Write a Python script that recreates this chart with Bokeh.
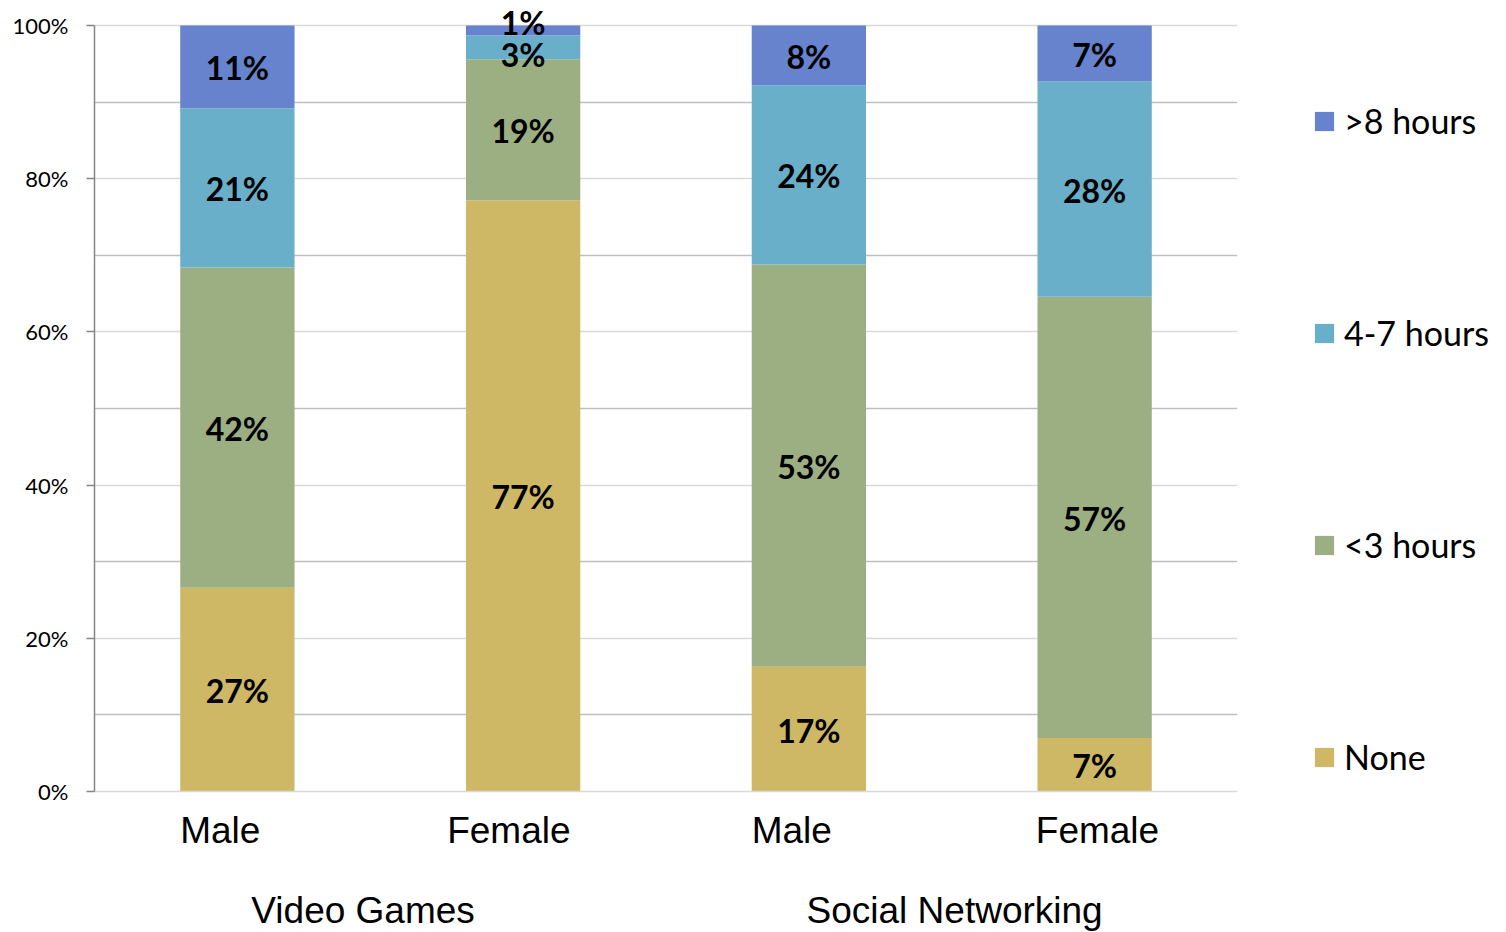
from bokeh.plotting import figure
from bokeh.models import (ColumnDataSource, Range1d, FixedTicker, LinearAxis, Legend,
                          LegendItem, CustomJSTickFormatter, PrintfTickFormatter)
from bokeh.embed import file_html
from bokeh.resources import INLINE
from bokeh.core.properties import value

# ---------------- data ----------------
groups = ["Video Games", "Social Networking"]
genders = ["Male", "Female", "Male", "Female"]
series = ["None", "<3 hours", "4-7 hours", ">8 hours"]

none_vals = [26.6, 77.2, 16.3, 7.0]
lt3_vals = [41.8, 18.4, 52.5, 57.6]
h47_vals = [20.8, 3.1, 23.4, 28.1]
gt8_vals = [10.8, 1.3, 7.8, 7.3]

none_labels = ["27%", "77%", "17%", "7%"]
lt3_labels = ["42%", "19%", "53%", "57%"]
h47_labels = ["21%", "3%", "24%", "28%"]
gt8_labels = ["11%", "1%", "8%", "7%"]

y_ticks = [0, 20, 40, 60, 80, 100]

# ---------------- styles ----------------
colors = ["#CEB866", "#9CAF82", "#6AAFC9", "#6783CD"]
# pixel nudges for crowded labels (series index, bar index) -> dy (screen px, + = down)
label_nudge = {(3, 1): -9, (2, 1): 6}

xs = list(range(len(genders)))
src = ColumnDataSource(dict(x=xs, **{s: v for s, v in zip(series, [none_vals, lt3_vals, h47_vals, gt8_vals])}))

Y_TOP = 103  # head-room above 100% so the top label is not clipped
p = figure(frame_width=1143, frame_height=789,
           x_range=Range1d(-0.5, 3.5), y_range=Range1d(0, Y_TOP),
           output_backend="svg", toolbar_location=None,
           min_border_left=94, min_border_top=2, min_border_right=255, min_border_bottom=120)
p.outline_line_color = None

renderers = p.vbar_stack(series, x="x", width=0.4, source=src, color=colors, line_color=None)

# value labels
lx, ly, lt, ldy = [], [], [], []
all_vals = [none_vals, lt3_vals, h47_vals, gt8_vals]
all_labels = [none_labels, lt3_labels, h47_labels, gt8_labels]
for i in xs:
    base = 0.0
    for s in range(len(series)):
        v = all_vals[s][i]
        lx.append(i)
        ly.append(base + v / 2.0)
        lt.append(all_labels[s][i])
        ldy.append(label_nudge.get((s, i), 0) + 1)
        base += v
lsrc = ColumnDataSource(dict(x=lx, y=ly, text=lt, dy=ldy))
p.text(x="x", y="y", text="text", y_offset="dy", source=lsrc,
       text_align="center", text_baseline="middle",
       text_font=value("Lato"), text_font_style="bold", text_font_size="32px",
       text_color="black")

# y axis
p.yaxis.ticker = FixedTicker(ticks=y_ticks, minor_ticks=[10, 30, 50, 70, 90])
p.yaxis.bounds = (0, 100)
p.yaxis.formatter = PrintfTickFormatter(format="%d%%")
p.yaxis.major_label_text_font = "Lato"
p.yaxis.major_label_text_font_size = "22px"
p.yaxis.major_label_text_color = "black"
p.yaxis.major_label_standoff = 18
p.yaxis.axis_line_color = "#868686"
p.yaxis.axis_line_width = 1.5
p.yaxis.major_tick_line_color = "#868686"
p.yaxis.major_tick_line_width = 1.5
p.yaxis.major_tick_in = 0
p.yaxis.major_tick_out = 8
p.yaxis.minor_tick_line_color = None

p.ygrid.grid_line_color = "#d9d9d9"
p.ygrid.grid_line_width = 1.5
p.ygrid.minor_grid_line_color = "#bfbfbf"
p.ygrid.minor_grid_line_width = 1.5
p.xgrid.visible = False

# x axis: genders
xa = p.xaxis[0]
xa.ticker = FixedTicker(ticks=[-0.06, 0.95, 1.94, 3.01])
xa.formatter = CustomJSTickFormatter(args=dict(labels=genders), code="return labels[index];")
xa.major_label_text_font = "Liberation Sans"
xa.major_label_text_font_size = "37px"
xa.major_label_text_color = "black"
xa.major_label_standoff = 12
xa.axis_line_color = "#d9d9d9"
xa.axis_line_width = 1.5
xa.major_tick_line_color = None
xa.minor_tick_line_color = None

# x axis: groups
ga = LinearAxis(ticker=FixedTicker(ticks=[0.44, 2.51]),
                formatter=CustomJSTickFormatter(args=dict(labels=groups), code="return labels[index];"))
ga.major_label_text_font = "Liberation Sans"
ga.major_label_text_font_size = "37px"
ga.major_label_text_color = "black"
ga.major_label_standoff = 30
ga.axis_line_color = None
ga.major_tick_line_color = None
ga.minor_tick_line_color = None
p.add_layout(ga, "below")

# legend
items = [LegendItem(label=s, renderers=[r]) for s, r in reversed(list(zip(series, renderers)))]
legend = Legend(items=items, location=(75, 14), orientation="vertical",
                glyph_width=24, glyph_height=24, label_height=41, spacing=171,
                padding=0, margin=0, border_line_color=None, background_fill_alpha=0,
                label_text_font="Lato", label_text_font_size="34px", label_standoff=8,
                label_text_color="black")
p.add_layout(legend, "right")

open("out.html", "w").write(file_html(p, INLINE))
